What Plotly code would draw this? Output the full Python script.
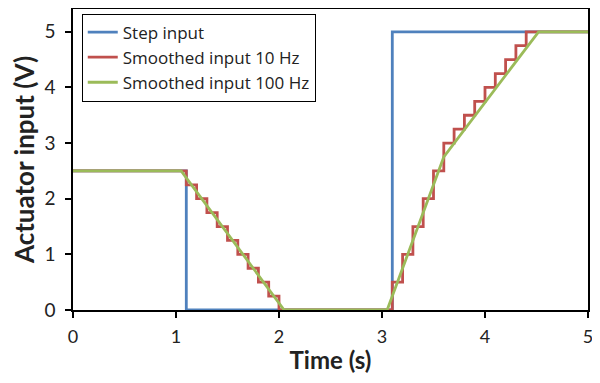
import plotly.graph_objects as go

# Step input
step_t = [0, 1.1, 3.1, 5]
step_v = [2.5, 0, 5, 5]

# Smoothed input 10 Hz (sample-and-hold, drawn as steps)
red_t = [0, 1.1, 1.2, 1.3, 1.4, 1.5, 1.6, 1.7, 1.8, 1.9, 2.0,
         3.1, 3.2, 3.3, 3.4, 3.5, 3.6, 3.7, 3.8, 3.9, 4.0, 4.1, 4.2, 4.3, 4.4, 5]
red_v = [2.5, 2.25, 2.0, 1.75, 1.5, 1.25, 1.0, 0.75, 0.5, 0.25, 0,
         0.5, 1.0, 1.5, 2.0, 2.5, 3.0, 3.25, 3.5, 3.75, 4.0, 4.25, 4.5, 4.75, 5.0, 5.0]

# Smoothed input 100 Hz
green_t = [0, 1.05, 2.05, 3.05, 3.6, 4.52, 5]
green_v = [2.5, 2.5, 0, 0, 2.75, 5, 5]

FONT = "Lato"

fig = go.Figure()
fig.add_trace(go.Scatter(x=step_t, y=step_v, mode="lines", line_shape="hv",
                         name="Step input", line=dict(color="#4F81BD", width=2.8)))
fig.add_trace(go.Scatter(x=red_t, y=red_v, mode="lines", line_shape="hv",
                         name="Smoothed input 10 Hz", line=dict(color="#C0504D", width=2.8)))
fig.add_trace(go.Scatter(x=green_t, y=green_v, mode="lines",
                         name="Smoothed input 100 Hz", line=dict(color="#9BBB59", width=2.8)))

# page body adds an 8px offset; figure is sized so the plot area lands where the reference has it
fig.update_layout(
    width=592, height=367,
    margin=dict(l=65, r=12, t=1, b=65),
    paper_bgcolor="white", plot_bgcolor="white",
    font=dict(family=FONT, size=19, color="#222222"),
    legend=dict(x=0.017, y=0.985, xanchor="left", yanchor="top",
                bordercolor="black", borderwidth=1, bgcolor="white",
                font=dict(family="Open Sans", size=17, color="#222222"),
                itemwidth=30, tracegroupgap=0),
    xaxis=dict(range=[0, 5], tickvals=[0, 1, 2, 3, 4, 5], showgrid=False, zeroline=False,
               showline=True, linecolor="black", linewidth=1.5, mirror=True,
               ticks="outside", ticklen=6, tickcolor="black", tickwidth=1.5,
               ticklabelstandoff=4, ticklabeloverflow="allow",
               tickfont=dict(size=18),
               automargin=False,
               title=dict(text="<b>Time (s)</b>", font=dict(family=FONT, size=24), standoff=6)),
    yaxis=dict(range=[0, 5.41], tickvals=[0, 1, 2, 3, 4, 5], showgrid=False, zeroline=False,
               showline=True, linecolor="black", linewidth=1.5, mirror=True,
               ticks="outside", ticklen=6, tickcolor="black", tickwidth=1.5,
               ticklabelstandoff=6, ticklabeloverflow="allow",
               automargin=False,
               title=dict(text="<b>Actuator input (V)</b>", font=dict(family=FONT, size=26), standoff=10)),
)

fig.write_html("out.html")
